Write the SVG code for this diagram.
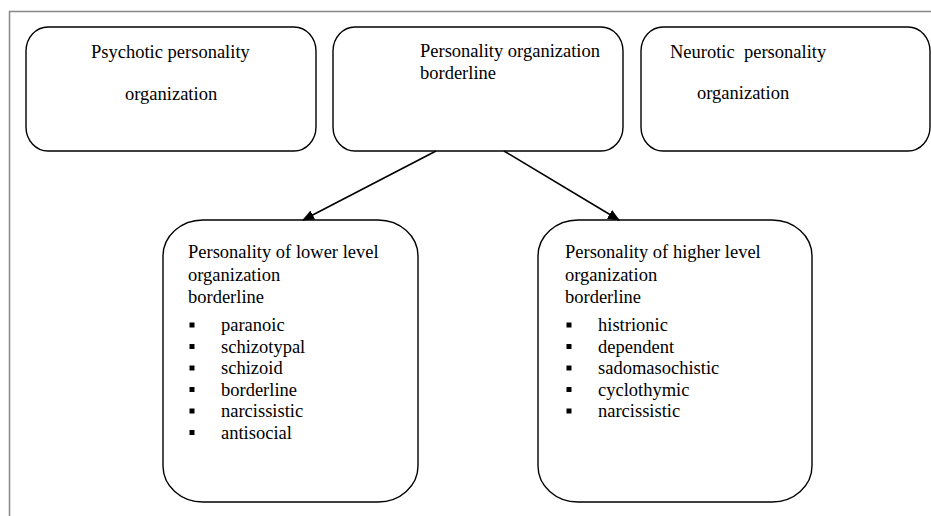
<svg xmlns="http://www.w3.org/2000/svg" width="931" height="516" viewBox="0 0 931 516">
<style>
.box{fill:#fff;stroke:#000;stroke-width:1.4}
.t{font-family:"Liberation Serif","Times New Roman",serif;font-size:18.5px;fill:#000}
.c{stroke:#000;stroke-width:1.6;fill:none}
.b{fill:#000}
</style>
<defs>
<marker id="ah" markerWidth="12" markerHeight="10" refX="11" refY="5" orient="auto" markerUnits="userSpaceOnUse">
<path d="M0,0 L12,5 L0,10 Z" fill="#000"/>
</marker>
</defs>
<rect width="931" height="516" fill="#fff"/>
<path d="M9.5,516 L9.5,11.5 L931,11.5" fill="none" stroke="#888" stroke-width="1.5"/>
<g id="psychotic">
<rect class="box" x="26" y="27" width="290" height="124" rx="22" ry="24"/>
<text class="t" x="91" y="58">Psychotic personality</text>
<text class="t" x="125" y="100">organization</text>
</g>
<g id="borderline">
<rect class="box" x="333" y="27" width="290" height="124" rx="22" ry="24"/>
<text class="t" x="420" y="57">Personality organization</text>
<text class="t" x="420" y="79">borderline</text>
</g>
<g id="neurotic">
<rect class="box" x="641" y="27" width="289" height="124" rx="22" ry="24"/>
<text class="t" x="670" y="58" xml:space="preserve">Neurotic  personality</text>
<text class="t" x="697" y="99">organization</text>
</g>
<g id="lower">
<rect class="box" x="163" y="220" width="255" height="282" rx="40" ry="36"/>
<text class="t" x="188" y="258">Personality of lower level</text>
<text class="t" x="188" y="281">organization</text>
<text class="t" x="188" y="303">borderline</text>
<rect class="b" x="189.5" y="322.5" width="5" height="5"/>
<rect class="b" x="189.5" y="344" width="5" height="5"/>
<rect class="b" x="189.5" y="365.5" width="5" height="5"/>
<rect class="b" x="189.5" y="387" width="5" height="5"/>
<rect class="b" x="189.5" y="408.5" width="5" height="5"/>
<rect class="b" x="189.5" y="430" width="5" height="5"/>
<text class="t" x="221" y="331">paranoic</text>
<text class="t" x="221" y="352.5">schizotypal</text>
<text class="t" x="221" y="374">schizoid</text>
<text class="t" x="221" y="395.5">borderline</text>
<text class="t" x="221" y="417">narcissistic</text>
<text class="t" x="221" y="438.5">antisocial</text>
</g>
<g id="higher">
<rect class="box" x="538" y="220" width="274" height="282" rx="40" ry="36"/>
<text class="t" x="565" y="258">Personality of higher level</text>
<text class="t" x="565" y="281">organization</text>
<text class="t" x="565" y="303">borderline</text>
<rect class="b" x="566.5" y="322.5" width="5" height="5"/>
<rect class="b" x="566.5" y="344" width="5" height="5"/>
<rect class="b" x="566.5" y="365.5" width="5" height="5"/>
<rect class="b" x="566.5" y="387" width="5" height="5"/>
<rect class="b" x="566.5" y="408.5" width="5" height="5"/>
<text class="t" x="598" y="331">histrionic</text>
<text class="t" x="598" y="352.5">dependent</text>
<text class="t" x="598" y="374">sadomasochistic</text>
<text class="t" x="598" y="395.5">cyclothymic</text>
<text class="t" x="598" y="417">narcissistic</text>
</g>
<g id="connectors">
<line class="c" x1="436" y1="151" x2="303" y2="220" marker-end="url(#ah)"/>
<line class="c" x1="504" y1="151" x2="619" y2="220" marker-end="url(#ah)"/>
</g>
</svg>
